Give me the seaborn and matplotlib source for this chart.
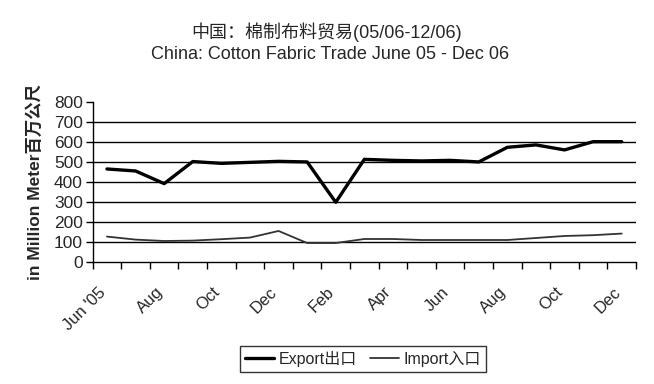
import matplotlib
matplotlib.use("Agg")
import matplotlib.pyplot as plt
import matplotlib.transforms as mtransforms
import seaborn as sns
import pandas as pd
import numpy as np

months = ["Jun 05", "Jul 05", "Aug 05", "Sep 05", "Oct 05", "Nov 05", "Dec 05",
          "Jan 06", "Feb 06", "Mar 06", "Apr 06", "May 06", "Jun 06", "Jul 06",
          "Aug 06", "Sep 06", "Oct 06", "Nov 06", "Dec 06"]
export_vals = [465, 455, 392, 502, 493, 498, 503, 500, 299, 513, 508, 505, 508, 500,
               573, 585, 560, 601, 601]
import_vals = [128, 113, 106, 108, 115, 123, 156, 96, 96, 116, 116, 111, 111, 111,
               111, 121, 131, 135, 143]
tick_labels = ["Jun '05", "Aug", "Oct", "Dec", "Feb", "Apr", "Jun", "Aug", "Oct", "Dec"]
yticks = [0, 100, 200, 300, 400, 500, 600, 700, 800]

sns.set_style("ticks")
plt.rcParams["font.family"] = ["Liberation Sans", "Noto Sans CJK SC", "DejaVu Sans"]

df = pd.DataFrame({
    "month": months * 2,
    "idx": list(range(len(months))) * 2,
    "value": export_vals + import_vals,
    "series": ["Export出口"] * len(months) + ["Import入口"] * len(months),
})

fig = plt.figure(figsize=(6.54, 3.84), dpi=100)
ax = fig.add_axes([0.1417, 0.317, 0.8308, 0.418])

sns.lineplot(data=df, x="idx", y="value", hue="series", size="series",
             palette={"Export出口": "#000000", "Import入口": "#333333"},
             sizes={"Export出口": 2.4, "Import入口": 1.3},
             ax=ax, legend=True)

n = len(months)
ax.set_xlim(-0.5, n - 0.5)
ax.set_ylim(0, 800)
ax.set_yticks(yticks)
ax.set_yticklabels([str(v) for v in yticks], fontsize=12.5)
for v in yticks[1:-1]:
    ax.axhline(v, color="black", lw=1.0, zorder=0)

ax.set_xticks(np.arange(-0.5, n, 1.0))
ax.set_xticklabels([])
ax.set_xticks(list(range(0, n, 2)), minor=True)
ax.set_xticklabels(tick_labels, minor=True, rotation=45, ha="right", va="top",
                   rotation_mode="anchor", fontsize=12)
ax.tick_params(axis="x", which="minor", length=0, pad=16)
ax.tick_params(axis="x", which="major", length=5, width=1, color="black", direction="out")
ax.tick_params(axis="y", length=5, width=1, color="black", direction="out", pad=2)
offset = mtransforms.ScaledTranslation(-9 / 100, 0, fig.dpi_scale_trans)
for lbl in ax.get_xticklabels(minor=True):
    lbl.set_transform(lbl.get_transform() + offset)

for s in ["top", "right"]:
    ax.spines[s].set_visible(False)
for s in ["left", "bottom"]:
    ax.spines[s].set_color("black")
    ax.spines[s].set_linewidth(1.0)

ax.set_xlabel("")
ax.set_ylabel("in Million Meter百万公尺", fontsize=12.5, fontweight="bold")
ax.yaxis.set_label_coords(-0.092, 0.5)

fig.text(0.5, 0.915, "中国：棉制布料贸易(05/06-12/06)", ha="center", va="center", fontsize=13)
fig.text(0.505, 0.857, "China: Cotton Fabric Trade June 05 - Dec 06", ha="center", va="center", fontsize=13)

leg = ax.legend(loc="center", bbox_to_anchor=(363 / 654, 1 - 359 / 384),
                bbox_transform=fig.transFigure, ncol=2, frameon=True, fancybox=False,
                fontsize=11.5, handlelength=1.8, columnspacing=0.8, handletextpad=0.3,
                borderpad=0.3, borderaxespad=0, edgecolor="black")
leg.get_frame().set_linewidth(1.0)

fig.savefig("out.png", dpi=100, facecolor="white")
